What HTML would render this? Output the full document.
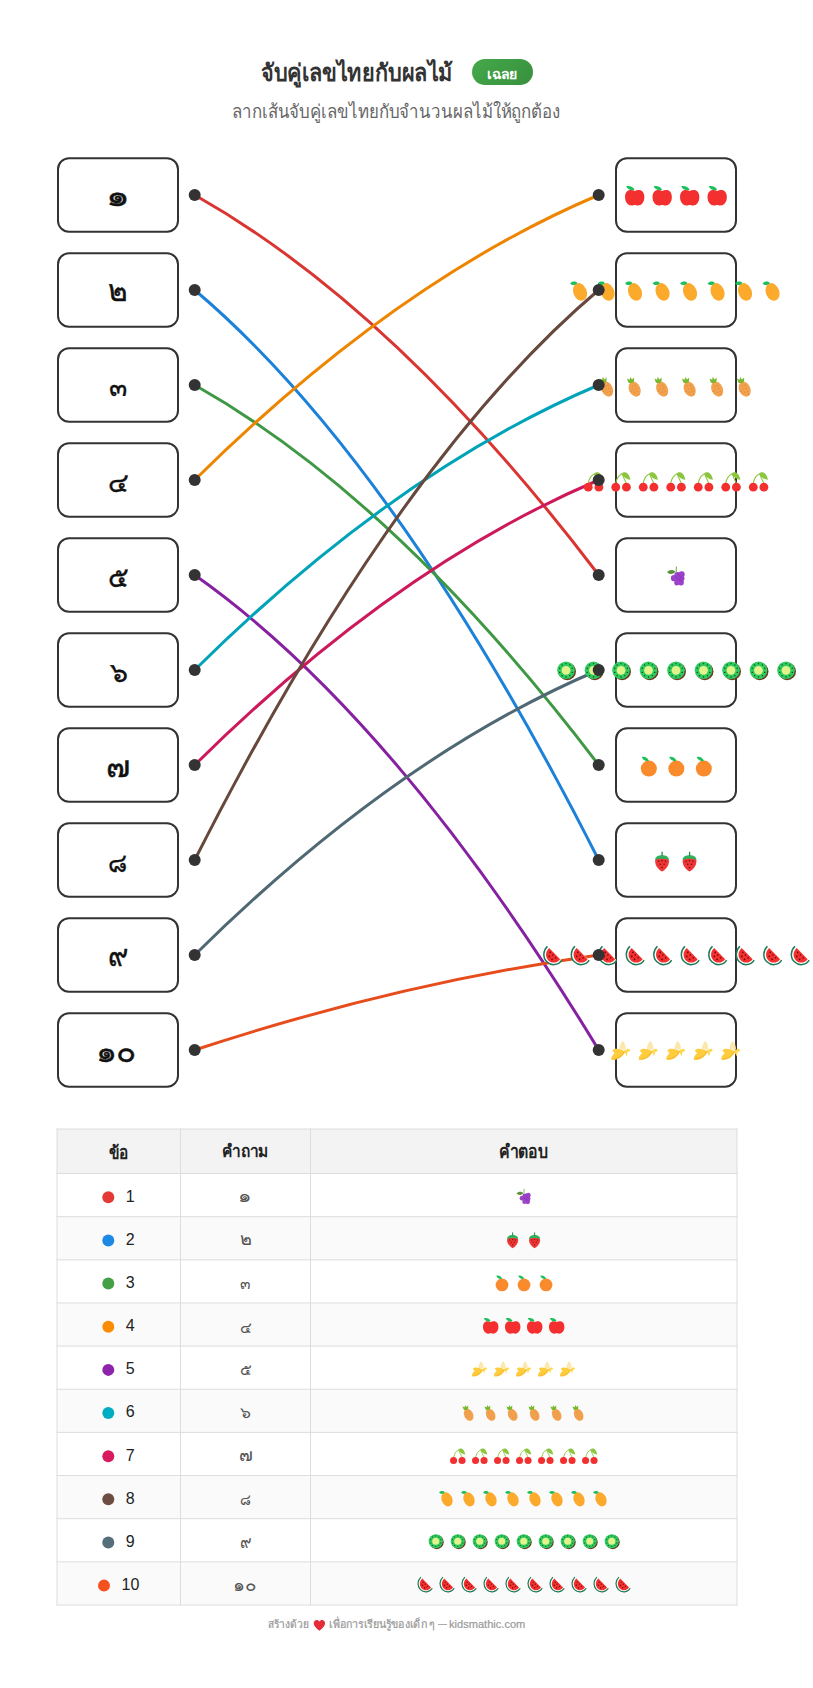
<!DOCTYPE html><html><head><meta charset="utf-8"><style>
*{margin:0;padding:0;box-sizing:border-box}
html,body{width:813px;height:1688px;background:#fff;overflow:hidden;font-family:"Liberation Sans", sans-serif}
.a{position:absolute;left:0;top:0}
.box{position:absolute;width:122px;height:75.5px;border:2px solid #333;border-radius:12px}
.t{position:absolute;white-space:nowrap;transform-origin:0 0;line-height:normal}
</style></head><body>
<div class="a" style="left:57px;top:1129.0px;width:680px;height:44.5px;background:#F3F3F3;position:absolute"></div>
<div style="position:absolute;left:57px;top:1216.65px;width:680px;height:43.15px;background:#FAFAFA"></div>
<div style="position:absolute;left:57px;top:1302.95px;width:680px;height:43.15px;background:#FAFAFA"></div>
<div style="position:absolute;left:57px;top:1389.25px;width:680px;height:43.15px;background:#FAFAFA"></div>
<div style="position:absolute;left:57px;top:1475.55px;width:680px;height:43.15px;background:#FAFAFA"></div>
<div style="position:absolute;left:57px;top:1561.85px;width:680px;height:43.15px;background:#FAFAFA"></div>
<div style="position:absolute;left:472px;top:58.6px;width:61.2px;height:26.6px;border-radius:14px;background:linear-gradient(135deg,#45A84A,#37903D)"></div>
<svg class="a" style="position:absolute" width="813" height="1688" viewBox="0 0 813 1688"><path d="M194.7 195.0Q396.7 309.0 598.7 575.0" stroke="#D93632" stroke-width="3" fill="none"/><path d="M194.7 290.0Q396.7 461.0 598.7 860.0" stroke="#1C81D9" stroke-width="3" fill="none"/><path d="M194.7 385.0Q396.7 499.0 598.7 765.0" stroke="#3F9843" stroke-width="3" fill="none"/><path d="M194.7 480.0Q396.7 280.5 598.7 195.0" stroke="#EE8500" stroke-width="3" fill="none"/><path d="M194.7 575.0Q396.7 717.5 598.7 1050.0" stroke="#8622A1" stroke-width="3" fill="none"/><path d="M194.7 670.0Q396.7 470.5 598.7 385.0" stroke="#00A3B7" stroke-width="3" fill="none"/><path d="M194.7 765.0Q396.7 565.5 598.7 480.0" stroke="#CD195B" stroke-width="3" fill="none"/><path d="M194.7 860.0Q396.7 461.0 598.7 290.0" stroke="#67483D" stroke-width="3" fill="none"/><path d="M194.7 955.0Q396.7 755.5 598.7 670.0" stroke="#4F6873" stroke-width="3" fill="none"/><path d="M194.7 1050.0Q396.7 983.5 598.7 955.0" stroke="#E74C1C" stroke-width="3" fill="none"/><rect x="56.5" y="1128.50" width="681" height="1" fill="#DDDDDD"/><rect x="56.5" y="1173.00" width="681" height="1" fill="#DDDDDD"/><rect x="56.5" y="1216.15" width="681" height="1" fill="#DDDDDD"/><rect x="56.5" y="1259.30" width="681" height="1" fill="#DDDDDD"/><rect x="56.5" y="1302.45" width="681" height="1" fill="#DDDDDD"/><rect x="56.5" y="1345.60" width="681" height="1" fill="#DDDDDD"/><rect x="56.5" y="1388.75" width="681" height="1" fill="#DDDDDD"/><rect x="56.5" y="1431.90" width="681" height="1" fill="#DDDDDD"/><rect x="56.5" y="1475.05" width="681" height="1" fill="#DDDDDD"/><rect x="56.5" y="1518.20" width="681" height="1" fill="#DDDDDD"/><rect x="56.5" y="1561.35" width="681" height="1" fill="#DDDDDD"/><rect x="56.5" y="1604.50" width="681" height="1" fill="#DDDDDD"/><rect x="56.50" y="1128.5" width="1" height="477.00" fill="#DDDDDD"/><rect x="180.00" y="1128.5" width="1" height="477.00" fill="#DDDDDD"/><rect x="310.00" y="1128.5" width="1" height="477.00" fill="#DDDDDD"/><rect x="736.50" y="1128.5" width="1" height="477.00" fill="#DDDDDD"/><rect x="58" y="158.25" width="120" height="73.50" rx="11" ry="11" fill="none" stroke="#333" stroke-width="2"/><rect x="616" y="158.25" width="120" height="73.50" rx="11" ry="11" fill="none" stroke="#333" stroke-width="2"/><rect x="58" y="253.25" width="120" height="73.50" rx="11" ry="11" fill="none" stroke="#333" stroke-width="2"/><rect x="616" y="253.25" width="120" height="73.50" rx="11" ry="11" fill="none" stroke="#333" stroke-width="2"/><rect x="58" y="348.25" width="120" height="73.50" rx="11" ry="11" fill="none" stroke="#333" stroke-width="2"/><rect x="616" y="348.25" width="120" height="73.50" rx="11" ry="11" fill="none" stroke="#333" stroke-width="2"/><rect x="58" y="443.25" width="120" height="73.50" rx="11" ry="11" fill="none" stroke="#333" stroke-width="2"/><rect x="616" y="443.25" width="120" height="73.50" rx="11" ry="11" fill="none" stroke="#333" stroke-width="2"/><rect x="58" y="538.25" width="120" height="73.50" rx="11" ry="11" fill="none" stroke="#333" stroke-width="2"/><rect x="616" y="538.25" width="120" height="73.50" rx="11" ry="11" fill="none" stroke="#333" stroke-width="2"/><rect x="58" y="633.25" width="120" height="73.50" rx="11" ry="11" fill="none" stroke="#333" stroke-width="2"/><rect x="616" y="633.25" width="120" height="73.50" rx="11" ry="11" fill="none" stroke="#333" stroke-width="2"/><rect x="58" y="728.25" width="120" height="73.50" rx="11" ry="11" fill="none" stroke="#333" stroke-width="2"/><rect x="616" y="728.25" width="120" height="73.50" rx="11" ry="11" fill="none" stroke="#333" stroke-width="2"/><rect x="58" y="823.25" width="120" height="73.50" rx="11" ry="11" fill="none" stroke="#333" stroke-width="2"/><rect x="616" y="823.25" width="120" height="73.50" rx="11" ry="11" fill="none" stroke="#333" stroke-width="2"/><rect x="58" y="918.25" width="120" height="73.50" rx="11" ry="11" fill="none" stroke="#333" stroke-width="2"/><rect x="616" y="918.25" width="120" height="73.50" rx="11" ry="11" fill="none" stroke="#333" stroke-width="2"/><rect x="58" y="1013.25" width="120" height="73.50" rx="11" ry="11" fill="none" stroke="#333" stroke-width="2"/><rect x="616" y="1013.25" width="120" height="73.50" rx="11" ry="11" fill="none" stroke="#333" stroke-width="2"/><g transform="translate(624.75,185.00) scale(1.0000)"><path d="M10 6C7 4.2 0.3 4.2 0.3 12C0.3 17.6 3.6 20.6 6.8 20.5C8.4 20.4 9 20 10 20C11 20 11.6 20.4 13.2 20.5C16.4 20.6 19.6 17.6 19.6 12C19.6 4.2 13 4.2 10 6Z" fill="#F32F2F"/><path d="M1.4 1.2C4.6 0.3 8.6 1.4 9.9 5.1C6.2 5.7 2.7 4.7 1.4 1.2Z" fill="#1DBF5C"/></g><g transform="translate(652.25,185.00) scale(1.0000)"><path d="M10 6C7 4.2 0.3 4.2 0.3 12C0.3 17.6 3.6 20.6 6.8 20.5C8.4 20.4 9 20 10 20C11 20 11.6 20.4 13.2 20.5C16.4 20.6 19.6 17.6 19.6 12C19.6 4.2 13 4.2 10 6Z" fill="#F32F2F"/><path d="M1.4 1.2C4.6 0.3 8.6 1.4 9.9 5.1C6.2 5.7 2.7 4.7 1.4 1.2Z" fill="#1DBF5C"/></g><g transform="translate(679.75,185.00) scale(1.0000)"><path d="M10 6C7 4.2 0.3 4.2 0.3 12C0.3 17.6 3.6 20.6 6.8 20.5C8.4 20.4 9 20 10 20C11 20 11.6 20.4 13.2 20.5C16.4 20.6 19.6 17.6 19.6 12C19.6 4.2 13 4.2 10 6Z" fill="#F32F2F"/><path d="M1.4 1.2C4.6 0.3 8.6 1.4 9.9 5.1C6.2 5.7 2.7 4.7 1.4 1.2Z" fill="#1DBF5C"/></g><g transform="translate(707.25,185.00) scale(1.0000)"><path d="M10 6C7 4.2 0.3 4.2 0.3 12C0.3 17.6 3.6 20.6 6.8 20.5C8.4 20.4 9 20 10 20C11 20 11.6 20.4 13.2 20.5C16.4 20.6 19.6 17.6 19.6 12C19.6 4.2 13 4.2 10 6Z" fill="#F32F2F"/><path d="M1.4 1.2C4.6 0.3 8.6 1.4 9.9 5.1C6.2 5.7 2.7 4.7 1.4 1.2Z" fill="#1DBF5C"/></g><g transform="translate(569.75,280.00) scale(1.0000)"><ellipse cx="10.3" cy="11.9" rx="6.7" ry="9.1" transform="rotate(-22 10.3 11.9)" fill="#FBAA2C"/><path d="M0.4 3.4C2.4 1.2 5.8 1 7.6 3C5.6 5.6 2.4 5.8 0.4 3.4Z" fill="#1DBF5C"/></g><g transform="translate(597.25,280.00) scale(1.0000)"><ellipse cx="10.3" cy="11.9" rx="6.7" ry="9.1" transform="rotate(-22 10.3 11.9)" fill="#FBAA2C"/><path d="M0.4 3.4C2.4 1.2 5.8 1 7.6 3C5.6 5.6 2.4 5.8 0.4 3.4Z" fill="#1DBF5C"/></g><g transform="translate(624.75,280.00) scale(1.0000)"><ellipse cx="10.3" cy="11.9" rx="6.7" ry="9.1" transform="rotate(-22 10.3 11.9)" fill="#FBAA2C"/><path d="M0.4 3.4C2.4 1.2 5.8 1 7.6 3C5.6 5.6 2.4 5.8 0.4 3.4Z" fill="#1DBF5C"/></g><g transform="translate(652.25,280.00) scale(1.0000)"><ellipse cx="10.3" cy="11.9" rx="6.7" ry="9.1" transform="rotate(-22 10.3 11.9)" fill="#FBAA2C"/><path d="M0.4 3.4C2.4 1.2 5.8 1 7.6 3C5.6 5.6 2.4 5.8 0.4 3.4Z" fill="#1DBF5C"/></g><g transform="translate(679.75,280.00) scale(1.0000)"><ellipse cx="10.3" cy="11.9" rx="6.7" ry="9.1" transform="rotate(-22 10.3 11.9)" fill="#FBAA2C"/><path d="M0.4 3.4C2.4 1.2 5.8 1 7.6 3C5.6 5.6 2.4 5.8 0.4 3.4Z" fill="#1DBF5C"/></g><g transform="translate(707.25,280.00) scale(1.0000)"><ellipse cx="10.3" cy="11.9" rx="6.7" ry="9.1" transform="rotate(-22 10.3 11.9)" fill="#FBAA2C"/><path d="M0.4 3.4C2.4 1.2 5.8 1 7.6 3C5.6 5.6 2.4 5.8 0.4 3.4Z" fill="#1DBF5C"/></g><g transform="translate(734.75,280.00) scale(1.0000)"><ellipse cx="10.3" cy="11.9" rx="6.7" ry="9.1" transform="rotate(-22 10.3 11.9)" fill="#FBAA2C"/><path d="M0.4 3.4C2.4 1.2 5.8 1 7.6 3C5.6 5.6 2.4 5.8 0.4 3.4Z" fill="#1DBF5C"/></g><g transform="translate(762.25,280.00) scale(1.0000)"><ellipse cx="10.3" cy="11.9" rx="6.7" ry="9.1" transform="rotate(-22 10.3 11.9)" fill="#FBAA2C"/><path d="M0.4 3.4C2.4 1.2 5.8 1 7.6 3C5.6 5.6 2.4 5.8 0.4 3.4Z" fill="#1DBF5C"/></g><g transform="translate(597.25,375.00) scale(1.0000)"><ellipse cx="9.9" cy="14.1" rx="5.6" ry="7.9" transform="rotate(-25 9.9 14.1)" fill="#F2A24E"/><g fill="#D5853C"><circle cx="7.6" cy="11" r=".6"/><circle cx="10.6" cy="10.4" r=".6"/><circle cx="8.4" cy="14" r=".6"/><circle cx="11.6" cy="13.4" r=".6"/><circle cx="9.6" cy="17.2" r=".6"/><circle cx="12.8" cy="16.6" r=".6"/><circle cx="14" cy="19.4" r=".6"/><circle cx="6.2" cy="16.4" r=".6"/></g><path d="M3.6 7.4L2.2 3.6L5 4.8L5.4 1.8L7.2 4.4L9.4 2.6L9.2 6.4C7.8 8.2 5.2 8.6 3.6 7.4Z" fill="#77B82E"/></g><g transform="translate(624.75,375.00) scale(1.0000)"><ellipse cx="9.9" cy="14.1" rx="5.6" ry="7.9" transform="rotate(-25 9.9 14.1)" fill="#F2A24E"/><g fill="#D5853C"><circle cx="7.6" cy="11" r=".6"/><circle cx="10.6" cy="10.4" r=".6"/><circle cx="8.4" cy="14" r=".6"/><circle cx="11.6" cy="13.4" r=".6"/><circle cx="9.6" cy="17.2" r=".6"/><circle cx="12.8" cy="16.6" r=".6"/><circle cx="14" cy="19.4" r=".6"/><circle cx="6.2" cy="16.4" r=".6"/></g><path d="M3.6 7.4L2.2 3.6L5 4.8L5.4 1.8L7.2 4.4L9.4 2.6L9.2 6.4C7.8 8.2 5.2 8.6 3.6 7.4Z" fill="#77B82E"/></g><g transform="translate(652.25,375.00) scale(1.0000)"><ellipse cx="9.9" cy="14.1" rx="5.6" ry="7.9" transform="rotate(-25 9.9 14.1)" fill="#F2A24E"/><g fill="#D5853C"><circle cx="7.6" cy="11" r=".6"/><circle cx="10.6" cy="10.4" r=".6"/><circle cx="8.4" cy="14" r=".6"/><circle cx="11.6" cy="13.4" r=".6"/><circle cx="9.6" cy="17.2" r=".6"/><circle cx="12.8" cy="16.6" r=".6"/><circle cx="14" cy="19.4" r=".6"/><circle cx="6.2" cy="16.4" r=".6"/></g><path d="M3.6 7.4L2.2 3.6L5 4.8L5.4 1.8L7.2 4.4L9.4 2.6L9.2 6.4C7.8 8.2 5.2 8.6 3.6 7.4Z" fill="#77B82E"/></g><g transform="translate(679.75,375.00) scale(1.0000)"><ellipse cx="9.9" cy="14.1" rx="5.6" ry="7.9" transform="rotate(-25 9.9 14.1)" fill="#F2A24E"/><g fill="#D5853C"><circle cx="7.6" cy="11" r=".6"/><circle cx="10.6" cy="10.4" r=".6"/><circle cx="8.4" cy="14" r=".6"/><circle cx="11.6" cy="13.4" r=".6"/><circle cx="9.6" cy="17.2" r=".6"/><circle cx="12.8" cy="16.6" r=".6"/><circle cx="14" cy="19.4" r=".6"/><circle cx="6.2" cy="16.4" r=".6"/></g><path d="M3.6 7.4L2.2 3.6L5 4.8L5.4 1.8L7.2 4.4L9.4 2.6L9.2 6.4C7.8 8.2 5.2 8.6 3.6 7.4Z" fill="#77B82E"/></g><g transform="translate(707.25,375.00) scale(1.0000)"><ellipse cx="9.9" cy="14.1" rx="5.6" ry="7.9" transform="rotate(-25 9.9 14.1)" fill="#F2A24E"/><g fill="#D5853C"><circle cx="7.6" cy="11" r=".6"/><circle cx="10.6" cy="10.4" r=".6"/><circle cx="8.4" cy="14" r=".6"/><circle cx="11.6" cy="13.4" r=".6"/><circle cx="9.6" cy="17.2" r=".6"/><circle cx="12.8" cy="16.6" r=".6"/><circle cx="14" cy="19.4" r=".6"/><circle cx="6.2" cy="16.4" r=".6"/></g><path d="M3.6 7.4L2.2 3.6L5 4.8L5.4 1.8L7.2 4.4L9.4 2.6L9.2 6.4C7.8 8.2 5.2 8.6 3.6 7.4Z" fill="#77B82E"/></g><g transform="translate(734.75,375.00) scale(1.0000)"><ellipse cx="9.9" cy="14.1" rx="5.6" ry="7.9" transform="rotate(-25 9.9 14.1)" fill="#F2A24E"/><g fill="#D5853C"><circle cx="7.6" cy="11" r=".6"/><circle cx="10.6" cy="10.4" r=".6"/><circle cx="8.4" cy="14" r=".6"/><circle cx="11.6" cy="13.4" r=".6"/><circle cx="9.6" cy="17.2" r=".6"/><circle cx="12.8" cy="16.6" r=".6"/><circle cx="14" cy="19.4" r=".6"/><circle cx="6.2" cy="16.4" r=".6"/></g><path d="M3.6 7.4L2.2 3.6L5 4.8L5.4 1.8L7.2 4.4L9.4 2.6L9.2 6.4C7.8 8.2 5.2 8.6 3.6 7.4Z" fill="#77B82E"/></g><g transform="translate(583.50,470.00) scale(1.0000)"><path d="M4.8 13Q6.2 6 11.2 3.8M15.2 13Q12.6 8 11.2 3.8" stroke="#8CC63F" stroke-width="1.1" fill="none"/><path d="M10.8 3.6C13 1.2 17.8 1.6 19.4 9.8C15.6 9.4 12.2 7.6 10.8 3.6Z" fill="#8CC63F"/><circle cx="4.75" cy="17.2" r="4.4" fill="#F32F2F"/><circle cx="15.4" cy="17.2" r="4.4" fill="#F32F2F"/></g><g transform="translate(611.00,470.00) scale(1.0000)"><path d="M4.8 13Q6.2 6 11.2 3.8M15.2 13Q12.6 8 11.2 3.8" stroke="#8CC63F" stroke-width="1.1" fill="none"/><path d="M10.8 3.6C13 1.2 17.8 1.6 19.4 9.8C15.6 9.4 12.2 7.6 10.8 3.6Z" fill="#8CC63F"/><circle cx="4.75" cy="17.2" r="4.4" fill="#F32F2F"/><circle cx="15.4" cy="17.2" r="4.4" fill="#F32F2F"/></g><g transform="translate(638.50,470.00) scale(1.0000)"><path d="M4.8 13Q6.2 6 11.2 3.8M15.2 13Q12.6 8 11.2 3.8" stroke="#8CC63F" stroke-width="1.1" fill="none"/><path d="M10.8 3.6C13 1.2 17.8 1.6 19.4 9.8C15.6 9.4 12.2 7.6 10.8 3.6Z" fill="#8CC63F"/><circle cx="4.75" cy="17.2" r="4.4" fill="#F32F2F"/><circle cx="15.4" cy="17.2" r="4.4" fill="#F32F2F"/></g><g transform="translate(666.00,470.00) scale(1.0000)"><path d="M4.8 13Q6.2 6 11.2 3.8M15.2 13Q12.6 8 11.2 3.8" stroke="#8CC63F" stroke-width="1.1" fill="none"/><path d="M10.8 3.6C13 1.2 17.8 1.6 19.4 9.8C15.6 9.4 12.2 7.6 10.8 3.6Z" fill="#8CC63F"/><circle cx="4.75" cy="17.2" r="4.4" fill="#F32F2F"/><circle cx="15.4" cy="17.2" r="4.4" fill="#F32F2F"/></g><g transform="translate(693.50,470.00) scale(1.0000)"><path d="M4.8 13Q6.2 6 11.2 3.8M15.2 13Q12.6 8 11.2 3.8" stroke="#8CC63F" stroke-width="1.1" fill="none"/><path d="M10.8 3.6C13 1.2 17.8 1.6 19.4 9.8C15.6 9.4 12.2 7.6 10.8 3.6Z" fill="#8CC63F"/><circle cx="4.75" cy="17.2" r="4.4" fill="#F32F2F"/><circle cx="15.4" cy="17.2" r="4.4" fill="#F32F2F"/></g><g transform="translate(721.00,470.00) scale(1.0000)"><path d="M4.8 13Q6.2 6 11.2 3.8M15.2 13Q12.6 8 11.2 3.8" stroke="#8CC63F" stroke-width="1.1" fill="none"/><path d="M10.8 3.6C13 1.2 17.8 1.6 19.4 9.8C15.6 9.4 12.2 7.6 10.8 3.6Z" fill="#8CC63F"/><circle cx="4.75" cy="17.2" r="4.4" fill="#F32F2F"/><circle cx="15.4" cy="17.2" r="4.4" fill="#F32F2F"/></g><g transform="translate(748.50,470.00) scale(1.0000)"><path d="M4.8 13Q6.2 6 11.2 3.8M15.2 13Q12.6 8 11.2 3.8" stroke="#8CC63F" stroke-width="1.1" fill="none"/><path d="M10.8 3.6C13 1.2 17.8 1.6 19.4 9.8C15.6 9.4 12.2 7.6 10.8 3.6Z" fill="#8CC63F"/><circle cx="4.75" cy="17.2" r="4.4" fill="#F32F2F"/><circle cx="15.4" cy="17.2" r="4.4" fill="#F32F2F"/></g><g transform="translate(666.00,565.00) scale(1.0000)"><path d="M1.1 7.2C3.2 4.4 7.4 4.2 9.4 6.8C7.2 9.6 3.4 9.8 1.1 7.2Z" fill="#5C913B"/><path d="M10.2 7L10.4 1.4" stroke="#77B255" stroke-width="1.1" fill="none"/><g fill="#9B42C9"><circle cx="15.6" cy="9.4" r="3.1"/><circle cx="11.4" cy="10.2" r="3.1"/><circle cx="15.4" cy="13.6" r="3.1"/><circle cx="8" cy="13.2" r="3.1"/><circle cx="11.8" cy="14.6" r="3.1"/><circle cx="15" cy="17.6" r="2.9"/><circle cx="10.8" cy="17.8" r="2.6"/></g><path d="M9.4 11.4C11 13.6 13 15 15.6 15.8M12 8.2C12.6 10.6 14 12.4 16.2 13" stroke="#7B2FA6" stroke-width=".7" fill="none"/></g><g transform="translate(556.00,660.00) scale(1.0000)"><circle cx="11.2" cy="11.4" r="8.8" fill="#6B3A1E"/><circle cx="10" cy="10.3" r="8.8" fill="#2FCB5F"/><circle cx="10" cy="10.3" r="4.4" fill="#E4F28C"/><g fill="#0B3A14"><circle cx="10" cy="3.6" r=".65"/><circle cx="13.9" cy="4.9" r=".65"/><circle cx="16.3" cy="8.2" r=".65"/><circle cx="16.3" cy="12.4" r=".65"/><circle cx="13.9" cy="15.7" r=".65"/><circle cx="10" cy="17" r=".65"/><circle cx="6.1" cy="15.7" r=".65"/><circle cx="3.7" cy="12.4" r=".65"/><circle cx="3.7" cy="8.2" r=".65"/><circle cx="6.1" cy="4.9" r=".65"/></g></g><g transform="translate(583.50,660.00) scale(1.0000)"><circle cx="11.2" cy="11.4" r="8.8" fill="#6B3A1E"/><circle cx="10" cy="10.3" r="8.8" fill="#2FCB5F"/><circle cx="10" cy="10.3" r="4.4" fill="#E4F28C"/><g fill="#0B3A14"><circle cx="10" cy="3.6" r=".65"/><circle cx="13.9" cy="4.9" r=".65"/><circle cx="16.3" cy="8.2" r=".65"/><circle cx="16.3" cy="12.4" r=".65"/><circle cx="13.9" cy="15.7" r=".65"/><circle cx="10" cy="17" r=".65"/><circle cx="6.1" cy="15.7" r=".65"/><circle cx="3.7" cy="12.4" r=".65"/><circle cx="3.7" cy="8.2" r=".65"/><circle cx="6.1" cy="4.9" r=".65"/></g></g><g transform="translate(611.00,660.00) scale(1.0000)"><circle cx="11.2" cy="11.4" r="8.8" fill="#6B3A1E"/><circle cx="10" cy="10.3" r="8.8" fill="#2FCB5F"/><circle cx="10" cy="10.3" r="4.4" fill="#E4F28C"/><g fill="#0B3A14"><circle cx="10" cy="3.6" r=".65"/><circle cx="13.9" cy="4.9" r=".65"/><circle cx="16.3" cy="8.2" r=".65"/><circle cx="16.3" cy="12.4" r=".65"/><circle cx="13.9" cy="15.7" r=".65"/><circle cx="10" cy="17" r=".65"/><circle cx="6.1" cy="15.7" r=".65"/><circle cx="3.7" cy="12.4" r=".65"/><circle cx="3.7" cy="8.2" r=".65"/><circle cx="6.1" cy="4.9" r=".65"/></g></g><g transform="translate(638.50,660.00) scale(1.0000)"><circle cx="11.2" cy="11.4" r="8.8" fill="#6B3A1E"/><circle cx="10" cy="10.3" r="8.8" fill="#2FCB5F"/><circle cx="10" cy="10.3" r="4.4" fill="#E4F28C"/><g fill="#0B3A14"><circle cx="10" cy="3.6" r=".65"/><circle cx="13.9" cy="4.9" r=".65"/><circle cx="16.3" cy="8.2" r=".65"/><circle cx="16.3" cy="12.4" r=".65"/><circle cx="13.9" cy="15.7" r=".65"/><circle cx="10" cy="17" r=".65"/><circle cx="6.1" cy="15.7" r=".65"/><circle cx="3.7" cy="12.4" r=".65"/><circle cx="3.7" cy="8.2" r=".65"/><circle cx="6.1" cy="4.9" r=".65"/></g></g><g transform="translate(666.00,660.00) scale(1.0000)"><circle cx="11.2" cy="11.4" r="8.8" fill="#6B3A1E"/><circle cx="10" cy="10.3" r="8.8" fill="#2FCB5F"/><circle cx="10" cy="10.3" r="4.4" fill="#E4F28C"/><g fill="#0B3A14"><circle cx="10" cy="3.6" r=".65"/><circle cx="13.9" cy="4.9" r=".65"/><circle cx="16.3" cy="8.2" r=".65"/><circle cx="16.3" cy="12.4" r=".65"/><circle cx="13.9" cy="15.7" r=".65"/><circle cx="10" cy="17" r=".65"/><circle cx="6.1" cy="15.7" r=".65"/><circle cx="3.7" cy="12.4" r=".65"/><circle cx="3.7" cy="8.2" r=".65"/><circle cx="6.1" cy="4.9" r=".65"/></g></g><g transform="translate(693.50,660.00) scale(1.0000)"><circle cx="11.2" cy="11.4" r="8.8" fill="#6B3A1E"/><circle cx="10" cy="10.3" r="8.8" fill="#2FCB5F"/><circle cx="10" cy="10.3" r="4.4" fill="#E4F28C"/><g fill="#0B3A14"><circle cx="10" cy="3.6" r=".65"/><circle cx="13.9" cy="4.9" r=".65"/><circle cx="16.3" cy="8.2" r=".65"/><circle cx="16.3" cy="12.4" r=".65"/><circle cx="13.9" cy="15.7" r=".65"/><circle cx="10" cy="17" r=".65"/><circle cx="6.1" cy="15.7" r=".65"/><circle cx="3.7" cy="12.4" r=".65"/><circle cx="3.7" cy="8.2" r=".65"/><circle cx="6.1" cy="4.9" r=".65"/></g></g><g transform="translate(721.00,660.00) scale(1.0000)"><circle cx="11.2" cy="11.4" r="8.8" fill="#6B3A1E"/><circle cx="10" cy="10.3" r="8.8" fill="#2FCB5F"/><circle cx="10" cy="10.3" r="4.4" fill="#E4F28C"/><g fill="#0B3A14"><circle cx="10" cy="3.6" r=".65"/><circle cx="13.9" cy="4.9" r=".65"/><circle cx="16.3" cy="8.2" r=".65"/><circle cx="16.3" cy="12.4" r=".65"/><circle cx="13.9" cy="15.7" r=".65"/><circle cx="10" cy="17" r=".65"/><circle cx="6.1" cy="15.7" r=".65"/><circle cx="3.7" cy="12.4" r=".65"/><circle cx="3.7" cy="8.2" r=".65"/><circle cx="6.1" cy="4.9" r=".65"/></g></g><g transform="translate(748.50,660.00) scale(1.0000)"><circle cx="11.2" cy="11.4" r="8.8" fill="#6B3A1E"/><circle cx="10" cy="10.3" r="8.8" fill="#2FCB5F"/><circle cx="10" cy="10.3" r="4.4" fill="#E4F28C"/><g fill="#0B3A14"><circle cx="10" cy="3.6" r=".65"/><circle cx="13.9" cy="4.9" r=".65"/><circle cx="16.3" cy="8.2" r=".65"/><circle cx="16.3" cy="12.4" r=".65"/><circle cx="13.9" cy="15.7" r=".65"/><circle cx="10" cy="17" r=".65"/><circle cx="6.1" cy="15.7" r=".65"/><circle cx="3.7" cy="12.4" r=".65"/><circle cx="3.7" cy="8.2" r=".65"/><circle cx="6.1" cy="4.9" r=".65"/></g></g><g transform="translate(776.00,660.00) scale(1.0000)"><circle cx="11.2" cy="11.4" r="8.8" fill="#6B3A1E"/><circle cx="10" cy="10.3" r="8.8" fill="#2FCB5F"/><circle cx="10" cy="10.3" r="4.4" fill="#E4F28C"/><g fill="#0B3A14"><circle cx="10" cy="3.6" r=".65"/><circle cx="13.9" cy="4.9" r=".65"/><circle cx="16.3" cy="8.2" r=".65"/><circle cx="16.3" cy="12.4" r=".65"/><circle cx="13.9" cy="15.7" r=".65"/><circle cx="10" cy="17" r=".65"/><circle cx="6.1" cy="15.7" r=".65"/><circle cx="3.7" cy="12.4" r=".65"/><circle cx="3.7" cy="8.2" r=".65"/><circle cx="6.1" cy="4.9" r=".65"/></g></g><g transform="translate(638.50,755.00) scale(1.0000)"><circle cx="10.35" cy="13.55" r="8" fill="#F98B2D"/><path d="M3.2 2C6.2 1.4 9.2 2.6 10.4 6C7.2 6.6 4.4 5.2 3.2 2Z" fill="#1DBF5C"/></g><g transform="translate(666.00,755.00) scale(1.0000)"><circle cx="10.35" cy="13.55" r="8" fill="#F98B2D"/><path d="M3.2 2C6.2 1.4 9.2 2.6 10.4 6C7.2 6.6 4.4 5.2 3.2 2Z" fill="#1DBF5C"/></g><g transform="translate(693.50,755.00) scale(1.0000)"><circle cx="10.35" cy="13.55" r="8" fill="#F98B2D"/><path d="M3.2 2C6.2 1.4 9.2 2.6 10.4 6C7.2 6.6 4.4 5.2 3.2 2Z" fill="#1DBF5C"/></g><g transform="translate(652.25,850.00) scale(1.0000)"><path d="M2.9 11.2C2.9 15.6 6 19.4 9.8 21.6C13.6 19.4 16.7 15.6 16.7 11.2C16.7 8.6 14 7.6 9.8 7.6C5.6 7.6 2.9 8.6 2.9 11.2Z" fill="#EE3636"/><path d="M2.9 10C2.9 6.6 6.2 5.2 9.8 5.2C13.4 5.2 16.7 6.6 16.7 10C13.2 8.4 6.4 8.4 2.9 10Z" fill="#30B15C"/><rect x="9.2" y="1.8" width="1.3" height="4.2" fill="#2B8A4A"/><g fill="#6A0A0A"><circle cx="6.4" cy="11.2" r=".75"/><circle cx="9.8" cy="10.8" r=".75"/><circle cx="13.2" cy="11.2" r=".75"/><circle cx="8" cy="14.2" r=".75"/><circle cx="11.8" cy="14.2" r=".75"/><circle cx="9.8" cy="17.4" r=".75"/></g></g><g transform="translate(679.75,850.00) scale(1.0000)"><path d="M2.9 11.2C2.9 15.6 6 19.4 9.8 21.6C13.6 19.4 16.7 15.6 16.7 11.2C16.7 8.6 14 7.6 9.8 7.6C5.6 7.6 2.9 8.6 2.9 11.2Z" fill="#EE3636"/><path d="M2.9 10C2.9 6.6 6.2 5.2 9.8 5.2C13.4 5.2 16.7 6.6 16.7 10C13.2 8.4 6.4 8.4 2.9 10Z" fill="#30B15C"/><rect x="9.2" y="1.8" width="1.3" height="4.2" fill="#2B8A4A"/><g fill="#6A0A0A"><circle cx="6.4" cy="11.2" r=".75"/><circle cx="9.8" cy="10.8" r=".75"/><circle cx="13.2" cy="11.2" r=".75"/><circle cx="8" cy="14.2" r=".75"/><circle cx="11.8" cy="14.2" r=".75"/><circle cx="9.8" cy="17.4" r=".75"/></g></g><g transform="translate(542.25,945.00) scale(1.0000)"><path d="M5.2 1.2C0.8 5.4 0.2 12.6 4.6 16.8C8.8 20.8 15.8 20.8 19.4 15.2Z" fill="#fff"/><path d="M5.2 1.2C0.8 5.4 0.2 12.6 4.6 16.8C8.8 20.8 15.8 20.8 19.4 15.2" stroke="#1C7A58" stroke-width="1.5" fill="none"/><path d="M6.9 3.1C3 6.8 2.8 12 6.2 15.4C9.6 18.6 14.8 18.4 17.9 14.2Z" fill="#F32F2F"/><g fill="#5A0A0A"><circle cx="8" cy="7.4" r=".8"/><circle cx="10.6" cy="10" r=".8"/><circle cx="7" cy="11.4" r=".8"/><circle cx="13.4" cy="12.8" r=".8"/><circle cx="9.8" cy="14.4" r=".8"/></g></g><g transform="translate(569.75,945.00) scale(1.0000)"><path d="M5.2 1.2C0.8 5.4 0.2 12.6 4.6 16.8C8.8 20.8 15.8 20.8 19.4 15.2Z" fill="#fff"/><path d="M5.2 1.2C0.8 5.4 0.2 12.6 4.6 16.8C8.8 20.8 15.8 20.8 19.4 15.2" stroke="#1C7A58" stroke-width="1.5" fill="none"/><path d="M6.9 3.1C3 6.8 2.8 12 6.2 15.4C9.6 18.6 14.8 18.4 17.9 14.2Z" fill="#F32F2F"/><g fill="#5A0A0A"><circle cx="8" cy="7.4" r=".8"/><circle cx="10.6" cy="10" r=".8"/><circle cx="7" cy="11.4" r=".8"/><circle cx="13.4" cy="12.8" r=".8"/><circle cx="9.8" cy="14.4" r=".8"/></g></g><g transform="translate(597.25,945.00) scale(1.0000)"><path d="M5.2 1.2C0.8 5.4 0.2 12.6 4.6 16.8C8.8 20.8 15.8 20.8 19.4 15.2Z" fill="#fff"/><path d="M5.2 1.2C0.8 5.4 0.2 12.6 4.6 16.8C8.8 20.8 15.8 20.8 19.4 15.2" stroke="#1C7A58" stroke-width="1.5" fill="none"/><path d="M6.9 3.1C3 6.8 2.8 12 6.2 15.4C9.6 18.6 14.8 18.4 17.9 14.2Z" fill="#F32F2F"/><g fill="#5A0A0A"><circle cx="8" cy="7.4" r=".8"/><circle cx="10.6" cy="10" r=".8"/><circle cx="7" cy="11.4" r=".8"/><circle cx="13.4" cy="12.8" r=".8"/><circle cx="9.8" cy="14.4" r=".8"/></g></g><g transform="translate(624.75,945.00) scale(1.0000)"><path d="M5.2 1.2C0.8 5.4 0.2 12.6 4.6 16.8C8.8 20.8 15.8 20.8 19.4 15.2Z" fill="#fff"/><path d="M5.2 1.2C0.8 5.4 0.2 12.6 4.6 16.8C8.8 20.8 15.8 20.8 19.4 15.2" stroke="#1C7A58" stroke-width="1.5" fill="none"/><path d="M6.9 3.1C3 6.8 2.8 12 6.2 15.4C9.6 18.6 14.8 18.4 17.9 14.2Z" fill="#F32F2F"/><g fill="#5A0A0A"><circle cx="8" cy="7.4" r=".8"/><circle cx="10.6" cy="10" r=".8"/><circle cx="7" cy="11.4" r=".8"/><circle cx="13.4" cy="12.8" r=".8"/><circle cx="9.8" cy="14.4" r=".8"/></g></g><g transform="translate(652.25,945.00) scale(1.0000)"><path d="M5.2 1.2C0.8 5.4 0.2 12.6 4.6 16.8C8.8 20.8 15.8 20.8 19.4 15.2Z" fill="#fff"/><path d="M5.2 1.2C0.8 5.4 0.2 12.6 4.6 16.8C8.8 20.8 15.8 20.8 19.4 15.2" stroke="#1C7A58" stroke-width="1.5" fill="none"/><path d="M6.9 3.1C3 6.8 2.8 12 6.2 15.4C9.6 18.6 14.8 18.4 17.9 14.2Z" fill="#F32F2F"/><g fill="#5A0A0A"><circle cx="8" cy="7.4" r=".8"/><circle cx="10.6" cy="10" r=".8"/><circle cx="7" cy="11.4" r=".8"/><circle cx="13.4" cy="12.8" r=".8"/><circle cx="9.8" cy="14.4" r=".8"/></g></g><g transform="translate(679.75,945.00) scale(1.0000)"><path d="M5.2 1.2C0.8 5.4 0.2 12.6 4.6 16.8C8.8 20.8 15.8 20.8 19.4 15.2Z" fill="#fff"/><path d="M5.2 1.2C0.8 5.4 0.2 12.6 4.6 16.8C8.8 20.8 15.8 20.8 19.4 15.2" stroke="#1C7A58" stroke-width="1.5" fill="none"/><path d="M6.9 3.1C3 6.8 2.8 12 6.2 15.4C9.6 18.6 14.8 18.4 17.9 14.2Z" fill="#F32F2F"/><g fill="#5A0A0A"><circle cx="8" cy="7.4" r=".8"/><circle cx="10.6" cy="10" r=".8"/><circle cx="7" cy="11.4" r=".8"/><circle cx="13.4" cy="12.8" r=".8"/><circle cx="9.8" cy="14.4" r=".8"/></g></g><g transform="translate(707.25,945.00) scale(1.0000)"><path d="M5.2 1.2C0.8 5.4 0.2 12.6 4.6 16.8C8.8 20.8 15.8 20.8 19.4 15.2Z" fill="#fff"/><path d="M5.2 1.2C0.8 5.4 0.2 12.6 4.6 16.8C8.8 20.8 15.8 20.8 19.4 15.2" stroke="#1C7A58" stroke-width="1.5" fill="none"/><path d="M6.9 3.1C3 6.8 2.8 12 6.2 15.4C9.6 18.6 14.8 18.4 17.9 14.2Z" fill="#F32F2F"/><g fill="#5A0A0A"><circle cx="8" cy="7.4" r=".8"/><circle cx="10.6" cy="10" r=".8"/><circle cx="7" cy="11.4" r=".8"/><circle cx="13.4" cy="12.8" r=".8"/><circle cx="9.8" cy="14.4" r=".8"/></g></g><g transform="translate(734.75,945.00) scale(1.0000)"><path d="M5.2 1.2C0.8 5.4 0.2 12.6 4.6 16.8C8.8 20.8 15.8 20.8 19.4 15.2Z" fill="#fff"/><path d="M5.2 1.2C0.8 5.4 0.2 12.6 4.6 16.8C8.8 20.8 15.8 20.8 19.4 15.2" stroke="#1C7A58" stroke-width="1.5" fill="none"/><path d="M6.9 3.1C3 6.8 2.8 12 6.2 15.4C9.6 18.6 14.8 18.4 17.9 14.2Z" fill="#F32F2F"/><g fill="#5A0A0A"><circle cx="8" cy="7.4" r=".8"/><circle cx="10.6" cy="10" r=".8"/><circle cx="7" cy="11.4" r=".8"/><circle cx="13.4" cy="12.8" r=".8"/><circle cx="9.8" cy="14.4" r=".8"/></g></g><g transform="translate(762.25,945.00) scale(1.0000)"><path d="M5.2 1.2C0.8 5.4 0.2 12.6 4.6 16.8C8.8 20.8 15.8 20.8 19.4 15.2Z" fill="#fff"/><path d="M5.2 1.2C0.8 5.4 0.2 12.6 4.6 16.8C8.8 20.8 15.8 20.8 19.4 15.2" stroke="#1C7A58" stroke-width="1.5" fill="none"/><path d="M6.9 3.1C3 6.8 2.8 12 6.2 15.4C9.6 18.6 14.8 18.4 17.9 14.2Z" fill="#F32F2F"/><g fill="#5A0A0A"><circle cx="8" cy="7.4" r=".8"/><circle cx="10.6" cy="10" r=".8"/><circle cx="7" cy="11.4" r=".8"/><circle cx="13.4" cy="12.8" r=".8"/><circle cx="9.8" cy="14.4" r=".8"/></g></g><g transform="translate(789.75,945.00) scale(1.0000)"><path d="M5.2 1.2C0.8 5.4 0.2 12.6 4.6 16.8C8.8 20.8 15.8 20.8 19.4 15.2Z" fill="#fff"/><path d="M5.2 1.2C0.8 5.4 0.2 12.6 4.6 16.8C8.8 20.8 15.8 20.8 19.4 15.2" stroke="#1C7A58" stroke-width="1.5" fill="none"/><path d="M6.9 3.1C3 6.8 2.8 12 6.2 15.4C9.6 18.6 14.8 18.4 17.9 14.2Z" fill="#F32F2F"/><g fill="#5A0A0A"><circle cx="8" cy="7.4" r=".8"/><circle cx="10.6" cy="10" r=".8"/><circle cx="7" cy="11.4" r=".8"/><circle cx="13.4" cy="12.8" r=".8"/><circle cx="9.8" cy="14.4" r=".8"/></g></g><g transform="translate(611.00,1040.00) scale(1.0000)"><path d="M8.3 9.4C8.6 5.4 10.6 1.4 12 1.1C13.6 2.8 15 6.2 15 9.6Z" fill="#FCE8AC"/><path d="M1.2 10.4L3.8 8.8C7.4 8.6 11 9.4 14 11.6C12.2 16.8 7.2 20.6 0.6 20C-0.4 18 0.8 15.4 3.6 13.2Z" fill="#FFCC3D"/><path d="M13.2 10.6L17.6 8.6L19.5 10.8L16.6 12L15.6 16.4C14.8 14.4 14 12.8 13.2 12Z" fill="#FFD84D"/><path d="M2.4 19C7.6 18.6 11.8 15.4 13.6 11.2" stroke="#E9AB2B" stroke-width=".7" fill="none"/></g><g transform="translate(638.50,1040.00) scale(1.0000)"><path d="M8.3 9.4C8.6 5.4 10.6 1.4 12 1.1C13.6 2.8 15 6.2 15 9.6Z" fill="#FCE8AC"/><path d="M1.2 10.4L3.8 8.8C7.4 8.6 11 9.4 14 11.6C12.2 16.8 7.2 20.6 0.6 20C-0.4 18 0.8 15.4 3.6 13.2Z" fill="#FFCC3D"/><path d="M13.2 10.6L17.6 8.6L19.5 10.8L16.6 12L15.6 16.4C14.8 14.4 14 12.8 13.2 12Z" fill="#FFD84D"/><path d="M2.4 19C7.6 18.6 11.8 15.4 13.6 11.2" stroke="#E9AB2B" stroke-width=".7" fill="none"/></g><g transform="translate(666.00,1040.00) scale(1.0000)"><path d="M8.3 9.4C8.6 5.4 10.6 1.4 12 1.1C13.6 2.8 15 6.2 15 9.6Z" fill="#FCE8AC"/><path d="M1.2 10.4L3.8 8.8C7.4 8.6 11 9.4 14 11.6C12.2 16.8 7.2 20.6 0.6 20C-0.4 18 0.8 15.4 3.6 13.2Z" fill="#FFCC3D"/><path d="M13.2 10.6L17.6 8.6L19.5 10.8L16.6 12L15.6 16.4C14.8 14.4 14 12.8 13.2 12Z" fill="#FFD84D"/><path d="M2.4 19C7.6 18.6 11.8 15.4 13.6 11.2" stroke="#E9AB2B" stroke-width=".7" fill="none"/></g><g transform="translate(693.50,1040.00) scale(1.0000)"><path d="M8.3 9.4C8.6 5.4 10.6 1.4 12 1.1C13.6 2.8 15 6.2 15 9.6Z" fill="#FCE8AC"/><path d="M1.2 10.4L3.8 8.8C7.4 8.6 11 9.4 14 11.6C12.2 16.8 7.2 20.6 0.6 20C-0.4 18 0.8 15.4 3.6 13.2Z" fill="#FFCC3D"/><path d="M13.2 10.6L17.6 8.6L19.5 10.8L16.6 12L15.6 16.4C14.8 14.4 14 12.8 13.2 12Z" fill="#FFD84D"/><path d="M2.4 19C7.6 18.6 11.8 15.4 13.6 11.2" stroke="#E9AB2B" stroke-width=".7" fill="none"/></g><g transform="translate(721.00,1040.00) scale(1.0000)"><path d="M8.3 9.4C8.6 5.4 10.6 1.4 12 1.1C13.6 2.8 15 6.2 15 9.6Z" fill="#FCE8AC"/><path d="M1.2 10.4L3.8 8.8C7.4 8.6 11 9.4 14 11.6C12.2 16.8 7.2 20.6 0.6 20C-0.4 18 0.8 15.4 3.6 13.2Z" fill="#FFCC3D"/><path d="M13.2 10.6L17.6 8.6L19.5 10.8L16.6 12L15.6 16.4C14.8 14.4 14 12.8 13.2 12Z" fill="#FFD84D"/><path d="M2.4 19C7.6 18.6 11.8 15.4 13.6 11.2" stroke="#E9AB2B" stroke-width=".7" fill="none"/></g><g transform="translate(515.75,1187.78) scale(0.8000)"><path d="M1.1 7.2C3.2 4.4 7.4 4.2 9.4 6.8C7.2 9.6 3.4 9.8 1.1 7.2Z" fill="#5C913B"/><path d="M10.2 7L10.4 1.4" stroke="#77B255" stroke-width="1.1" fill="none"/><g fill="#9B42C9"><circle cx="15.6" cy="9.4" r="3.1"/><circle cx="11.4" cy="10.2" r="3.1"/><circle cx="15.4" cy="13.6" r="3.1"/><circle cx="8" cy="13.2" r="3.1"/><circle cx="11.8" cy="14.6" r="3.1"/><circle cx="15" cy="17.6" r="2.9"/><circle cx="10.8" cy="17.8" r="2.6"/></g><path d="M9.4 11.4C11 13.6 13 15 15.6 15.8M12 8.2C12.6 10.6 14 12.4 16.2 13" stroke="#7B2FA6" stroke-width=".7" fill="none"/></g><circle cx="108.3" cy="1197.28" r="6" fill="#E53935"/><g transform="translate(504.75,1230.93) scale(0.8000)"><path d="M2.9 11.2C2.9 15.6 6 19.4 9.8 21.6C13.6 19.4 16.7 15.6 16.7 11.2C16.7 8.6 14 7.6 9.8 7.6C5.6 7.6 2.9 8.6 2.9 11.2Z" fill="#EE3636"/><path d="M2.9 10C2.9 6.6 6.2 5.2 9.8 5.2C13.4 5.2 16.7 6.6 16.7 10C13.2 8.4 6.4 8.4 2.9 10Z" fill="#30B15C"/><rect x="9.2" y="1.8" width="1.3" height="4.2" fill="#2B8A4A"/><g fill="#6A0A0A"><circle cx="6.4" cy="11.2" r=".75"/><circle cx="9.8" cy="10.8" r=".75"/><circle cx="13.2" cy="11.2" r=".75"/><circle cx="8" cy="14.2" r=".75"/><circle cx="11.8" cy="14.2" r=".75"/><circle cx="9.8" cy="17.4" r=".75"/></g></g><g transform="translate(526.75,1230.93) scale(0.8000)"><path d="M2.9 11.2C2.9 15.6 6 19.4 9.8 21.6C13.6 19.4 16.7 15.6 16.7 11.2C16.7 8.6 14 7.6 9.8 7.6C5.6 7.6 2.9 8.6 2.9 11.2Z" fill="#EE3636"/><path d="M2.9 10C2.9 6.6 6.2 5.2 9.8 5.2C13.4 5.2 16.7 6.6 16.7 10C13.2 8.4 6.4 8.4 2.9 10Z" fill="#30B15C"/><rect x="9.2" y="1.8" width="1.3" height="4.2" fill="#2B8A4A"/><g fill="#6A0A0A"><circle cx="6.4" cy="11.2" r=".75"/><circle cx="9.8" cy="10.8" r=".75"/><circle cx="13.2" cy="11.2" r=".75"/><circle cx="8" cy="14.2" r=".75"/><circle cx="11.8" cy="14.2" r=".75"/><circle cx="9.8" cy="17.4" r=".75"/></g></g><circle cx="108.3" cy="1240.43" r="6" fill="#1E88E5"/><g transform="translate(493.75,1274.08) scale(0.8000)"><circle cx="10.35" cy="13.55" r="8" fill="#F98B2D"/><path d="M3.2 2C6.2 1.4 9.2 2.6 10.4 6C7.2 6.6 4.4 5.2 3.2 2Z" fill="#1DBF5C"/></g><g transform="translate(515.75,1274.08) scale(0.8000)"><circle cx="10.35" cy="13.55" r="8" fill="#F98B2D"/><path d="M3.2 2C6.2 1.4 9.2 2.6 10.4 6C7.2 6.6 4.4 5.2 3.2 2Z" fill="#1DBF5C"/></g><g transform="translate(537.75,1274.08) scale(0.8000)"><circle cx="10.35" cy="13.55" r="8" fill="#F98B2D"/><path d="M3.2 2C6.2 1.4 9.2 2.6 10.4 6C7.2 6.6 4.4 5.2 3.2 2Z" fill="#1DBF5C"/></g><circle cx="108.3" cy="1283.58" r="6" fill="#43A047"/><g transform="translate(482.75,1317.23) scale(0.8000)"><path d="M10 6C7 4.2 0.3 4.2 0.3 12C0.3 17.6 3.6 20.6 6.8 20.5C8.4 20.4 9 20 10 20C11 20 11.6 20.4 13.2 20.5C16.4 20.6 19.6 17.6 19.6 12C19.6 4.2 13 4.2 10 6Z" fill="#F32F2F"/><path d="M1.4 1.2C4.6 0.3 8.6 1.4 9.9 5.1C6.2 5.7 2.7 4.7 1.4 1.2Z" fill="#1DBF5C"/></g><g transform="translate(504.75,1317.23) scale(0.8000)"><path d="M10 6C7 4.2 0.3 4.2 0.3 12C0.3 17.6 3.6 20.6 6.8 20.5C8.4 20.4 9 20 10 20C11 20 11.6 20.4 13.2 20.5C16.4 20.6 19.6 17.6 19.6 12C19.6 4.2 13 4.2 10 6Z" fill="#F32F2F"/><path d="M1.4 1.2C4.6 0.3 8.6 1.4 9.9 5.1C6.2 5.7 2.7 4.7 1.4 1.2Z" fill="#1DBF5C"/></g><g transform="translate(526.75,1317.23) scale(0.8000)"><path d="M10 6C7 4.2 0.3 4.2 0.3 12C0.3 17.6 3.6 20.6 6.8 20.5C8.4 20.4 9 20 10 20C11 20 11.6 20.4 13.2 20.5C16.4 20.6 19.6 17.6 19.6 12C19.6 4.2 13 4.2 10 6Z" fill="#F32F2F"/><path d="M1.4 1.2C4.6 0.3 8.6 1.4 9.9 5.1C6.2 5.7 2.7 4.7 1.4 1.2Z" fill="#1DBF5C"/></g><g transform="translate(548.75,1317.23) scale(0.8000)"><path d="M10 6C7 4.2 0.3 4.2 0.3 12C0.3 17.6 3.6 20.6 6.8 20.5C8.4 20.4 9 20 10 20C11 20 11.6 20.4 13.2 20.5C16.4 20.6 19.6 17.6 19.6 12C19.6 4.2 13 4.2 10 6Z" fill="#F32F2F"/><path d="M1.4 1.2C4.6 0.3 8.6 1.4 9.9 5.1C6.2 5.7 2.7 4.7 1.4 1.2Z" fill="#1DBF5C"/></g><circle cx="108.3" cy="1326.73" r="6" fill="#FB8C00"/><g transform="translate(471.75,1360.38) scale(0.8000)"><path d="M8.3 9.4C8.6 5.4 10.6 1.4 12 1.1C13.6 2.8 15 6.2 15 9.6Z" fill="#FCE8AC"/><path d="M1.2 10.4L3.8 8.8C7.4 8.6 11 9.4 14 11.6C12.2 16.8 7.2 20.6 0.6 20C-0.4 18 0.8 15.4 3.6 13.2Z" fill="#FFCC3D"/><path d="M13.2 10.6L17.6 8.6L19.5 10.8L16.6 12L15.6 16.4C14.8 14.4 14 12.8 13.2 12Z" fill="#FFD84D"/><path d="M2.4 19C7.6 18.6 11.8 15.4 13.6 11.2" stroke="#E9AB2B" stroke-width=".7" fill="none"/></g><g transform="translate(493.75,1360.38) scale(0.8000)"><path d="M8.3 9.4C8.6 5.4 10.6 1.4 12 1.1C13.6 2.8 15 6.2 15 9.6Z" fill="#FCE8AC"/><path d="M1.2 10.4L3.8 8.8C7.4 8.6 11 9.4 14 11.6C12.2 16.8 7.2 20.6 0.6 20C-0.4 18 0.8 15.4 3.6 13.2Z" fill="#FFCC3D"/><path d="M13.2 10.6L17.6 8.6L19.5 10.8L16.6 12L15.6 16.4C14.8 14.4 14 12.8 13.2 12Z" fill="#FFD84D"/><path d="M2.4 19C7.6 18.6 11.8 15.4 13.6 11.2" stroke="#E9AB2B" stroke-width=".7" fill="none"/></g><g transform="translate(515.75,1360.38) scale(0.8000)"><path d="M8.3 9.4C8.6 5.4 10.6 1.4 12 1.1C13.6 2.8 15 6.2 15 9.6Z" fill="#FCE8AC"/><path d="M1.2 10.4L3.8 8.8C7.4 8.6 11 9.4 14 11.6C12.2 16.8 7.2 20.6 0.6 20C-0.4 18 0.8 15.4 3.6 13.2Z" fill="#FFCC3D"/><path d="M13.2 10.6L17.6 8.6L19.5 10.8L16.6 12L15.6 16.4C14.8 14.4 14 12.8 13.2 12Z" fill="#FFD84D"/><path d="M2.4 19C7.6 18.6 11.8 15.4 13.6 11.2" stroke="#E9AB2B" stroke-width=".7" fill="none"/></g><g transform="translate(537.75,1360.38) scale(0.8000)"><path d="M8.3 9.4C8.6 5.4 10.6 1.4 12 1.1C13.6 2.8 15 6.2 15 9.6Z" fill="#FCE8AC"/><path d="M1.2 10.4L3.8 8.8C7.4 8.6 11 9.4 14 11.6C12.2 16.8 7.2 20.6 0.6 20C-0.4 18 0.8 15.4 3.6 13.2Z" fill="#FFCC3D"/><path d="M13.2 10.6L17.6 8.6L19.5 10.8L16.6 12L15.6 16.4C14.8 14.4 14 12.8 13.2 12Z" fill="#FFD84D"/><path d="M2.4 19C7.6 18.6 11.8 15.4 13.6 11.2" stroke="#E9AB2B" stroke-width=".7" fill="none"/></g><g transform="translate(559.75,1360.38) scale(0.8000)"><path d="M8.3 9.4C8.6 5.4 10.6 1.4 12 1.1C13.6 2.8 15 6.2 15 9.6Z" fill="#FCE8AC"/><path d="M1.2 10.4L3.8 8.8C7.4 8.6 11 9.4 14 11.6C12.2 16.8 7.2 20.6 0.6 20C-0.4 18 0.8 15.4 3.6 13.2Z" fill="#FFCC3D"/><path d="M13.2 10.6L17.6 8.6L19.5 10.8L16.6 12L15.6 16.4C14.8 14.4 14 12.8 13.2 12Z" fill="#FFD84D"/><path d="M2.4 19C7.6 18.6 11.8 15.4 13.6 11.2" stroke="#E9AB2B" stroke-width=".7" fill="none"/></g><circle cx="108.3" cy="1369.88" r="6" fill="#8E24AA"/><g transform="translate(460.75,1403.53) scale(0.8000)"><ellipse cx="9.9" cy="14.1" rx="5.6" ry="7.9" transform="rotate(-25 9.9 14.1)" fill="#F2A24E"/><g fill="#D5853C"><circle cx="7.6" cy="11" r=".6"/><circle cx="10.6" cy="10.4" r=".6"/><circle cx="8.4" cy="14" r=".6"/><circle cx="11.6" cy="13.4" r=".6"/><circle cx="9.6" cy="17.2" r=".6"/><circle cx="12.8" cy="16.6" r=".6"/><circle cx="14" cy="19.4" r=".6"/><circle cx="6.2" cy="16.4" r=".6"/></g><path d="M3.6 7.4L2.2 3.6L5 4.8L5.4 1.8L7.2 4.4L9.4 2.6L9.2 6.4C7.8 8.2 5.2 8.6 3.6 7.4Z" fill="#77B82E"/></g><g transform="translate(482.75,1403.53) scale(0.8000)"><ellipse cx="9.9" cy="14.1" rx="5.6" ry="7.9" transform="rotate(-25 9.9 14.1)" fill="#F2A24E"/><g fill="#D5853C"><circle cx="7.6" cy="11" r=".6"/><circle cx="10.6" cy="10.4" r=".6"/><circle cx="8.4" cy="14" r=".6"/><circle cx="11.6" cy="13.4" r=".6"/><circle cx="9.6" cy="17.2" r=".6"/><circle cx="12.8" cy="16.6" r=".6"/><circle cx="14" cy="19.4" r=".6"/><circle cx="6.2" cy="16.4" r=".6"/></g><path d="M3.6 7.4L2.2 3.6L5 4.8L5.4 1.8L7.2 4.4L9.4 2.6L9.2 6.4C7.8 8.2 5.2 8.6 3.6 7.4Z" fill="#77B82E"/></g><g transform="translate(504.75,1403.53) scale(0.8000)"><ellipse cx="9.9" cy="14.1" rx="5.6" ry="7.9" transform="rotate(-25 9.9 14.1)" fill="#F2A24E"/><g fill="#D5853C"><circle cx="7.6" cy="11" r=".6"/><circle cx="10.6" cy="10.4" r=".6"/><circle cx="8.4" cy="14" r=".6"/><circle cx="11.6" cy="13.4" r=".6"/><circle cx="9.6" cy="17.2" r=".6"/><circle cx="12.8" cy="16.6" r=".6"/><circle cx="14" cy="19.4" r=".6"/><circle cx="6.2" cy="16.4" r=".6"/></g><path d="M3.6 7.4L2.2 3.6L5 4.8L5.4 1.8L7.2 4.4L9.4 2.6L9.2 6.4C7.8 8.2 5.2 8.6 3.6 7.4Z" fill="#77B82E"/></g><g transform="translate(526.75,1403.53) scale(0.8000)"><ellipse cx="9.9" cy="14.1" rx="5.6" ry="7.9" transform="rotate(-25 9.9 14.1)" fill="#F2A24E"/><g fill="#D5853C"><circle cx="7.6" cy="11" r=".6"/><circle cx="10.6" cy="10.4" r=".6"/><circle cx="8.4" cy="14" r=".6"/><circle cx="11.6" cy="13.4" r=".6"/><circle cx="9.6" cy="17.2" r=".6"/><circle cx="12.8" cy="16.6" r=".6"/><circle cx="14" cy="19.4" r=".6"/><circle cx="6.2" cy="16.4" r=".6"/></g><path d="M3.6 7.4L2.2 3.6L5 4.8L5.4 1.8L7.2 4.4L9.4 2.6L9.2 6.4C7.8 8.2 5.2 8.6 3.6 7.4Z" fill="#77B82E"/></g><g transform="translate(548.75,1403.53) scale(0.8000)"><ellipse cx="9.9" cy="14.1" rx="5.6" ry="7.9" transform="rotate(-25 9.9 14.1)" fill="#F2A24E"/><g fill="#D5853C"><circle cx="7.6" cy="11" r=".6"/><circle cx="10.6" cy="10.4" r=".6"/><circle cx="8.4" cy="14" r=".6"/><circle cx="11.6" cy="13.4" r=".6"/><circle cx="9.6" cy="17.2" r=".6"/><circle cx="12.8" cy="16.6" r=".6"/><circle cx="14" cy="19.4" r=".6"/><circle cx="6.2" cy="16.4" r=".6"/></g><path d="M3.6 7.4L2.2 3.6L5 4.8L5.4 1.8L7.2 4.4L9.4 2.6L9.2 6.4C7.8 8.2 5.2 8.6 3.6 7.4Z" fill="#77B82E"/></g><g transform="translate(570.75,1403.53) scale(0.8000)"><ellipse cx="9.9" cy="14.1" rx="5.6" ry="7.9" transform="rotate(-25 9.9 14.1)" fill="#F2A24E"/><g fill="#D5853C"><circle cx="7.6" cy="11" r=".6"/><circle cx="10.6" cy="10.4" r=".6"/><circle cx="8.4" cy="14" r=".6"/><circle cx="11.6" cy="13.4" r=".6"/><circle cx="9.6" cy="17.2" r=".6"/><circle cx="12.8" cy="16.6" r=".6"/><circle cx="14" cy="19.4" r=".6"/><circle cx="6.2" cy="16.4" r=".6"/></g><path d="M3.6 7.4L2.2 3.6L5 4.8L5.4 1.8L7.2 4.4L9.4 2.6L9.2 6.4C7.8 8.2 5.2 8.6 3.6 7.4Z" fill="#77B82E"/></g><circle cx="108.3" cy="1413.03" r="6" fill="#00ACC1"/><g transform="translate(449.75,1446.68) scale(0.8000)"><path d="M4.8 13Q6.2 6 11.2 3.8M15.2 13Q12.6 8 11.2 3.8" stroke="#8CC63F" stroke-width="1.1" fill="none"/><path d="M10.8 3.6C13 1.2 17.8 1.6 19.4 9.8C15.6 9.4 12.2 7.6 10.8 3.6Z" fill="#8CC63F"/><circle cx="4.75" cy="17.2" r="4.4" fill="#F32F2F"/><circle cx="15.4" cy="17.2" r="4.4" fill="#F32F2F"/></g><g transform="translate(471.75,1446.68) scale(0.8000)"><path d="M4.8 13Q6.2 6 11.2 3.8M15.2 13Q12.6 8 11.2 3.8" stroke="#8CC63F" stroke-width="1.1" fill="none"/><path d="M10.8 3.6C13 1.2 17.8 1.6 19.4 9.8C15.6 9.4 12.2 7.6 10.8 3.6Z" fill="#8CC63F"/><circle cx="4.75" cy="17.2" r="4.4" fill="#F32F2F"/><circle cx="15.4" cy="17.2" r="4.4" fill="#F32F2F"/></g><g transform="translate(493.75,1446.68) scale(0.8000)"><path d="M4.8 13Q6.2 6 11.2 3.8M15.2 13Q12.6 8 11.2 3.8" stroke="#8CC63F" stroke-width="1.1" fill="none"/><path d="M10.8 3.6C13 1.2 17.8 1.6 19.4 9.8C15.6 9.4 12.2 7.6 10.8 3.6Z" fill="#8CC63F"/><circle cx="4.75" cy="17.2" r="4.4" fill="#F32F2F"/><circle cx="15.4" cy="17.2" r="4.4" fill="#F32F2F"/></g><g transform="translate(515.75,1446.68) scale(0.8000)"><path d="M4.8 13Q6.2 6 11.2 3.8M15.2 13Q12.6 8 11.2 3.8" stroke="#8CC63F" stroke-width="1.1" fill="none"/><path d="M10.8 3.6C13 1.2 17.8 1.6 19.4 9.8C15.6 9.4 12.2 7.6 10.8 3.6Z" fill="#8CC63F"/><circle cx="4.75" cy="17.2" r="4.4" fill="#F32F2F"/><circle cx="15.4" cy="17.2" r="4.4" fill="#F32F2F"/></g><g transform="translate(537.75,1446.68) scale(0.8000)"><path d="M4.8 13Q6.2 6 11.2 3.8M15.2 13Q12.6 8 11.2 3.8" stroke="#8CC63F" stroke-width="1.1" fill="none"/><path d="M10.8 3.6C13 1.2 17.8 1.6 19.4 9.8C15.6 9.4 12.2 7.6 10.8 3.6Z" fill="#8CC63F"/><circle cx="4.75" cy="17.2" r="4.4" fill="#F32F2F"/><circle cx="15.4" cy="17.2" r="4.4" fill="#F32F2F"/></g><g transform="translate(559.75,1446.68) scale(0.8000)"><path d="M4.8 13Q6.2 6 11.2 3.8M15.2 13Q12.6 8 11.2 3.8" stroke="#8CC63F" stroke-width="1.1" fill="none"/><path d="M10.8 3.6C13 1.2 17.8 1.6 19.4 9.8C15.6 9.4 12.2 7.6 10.8 3.6Z" fill="#8CC63F"/><circle cx="4.75" cy="17.2" r="4.4" fill="#F32F2F"/><circle cx="15.4" cy="17.2" r="4.4" fill="#F32F2F"/></g><g transform="translate(581.75,1446.68) scale(0.8000)"><path d="M4.8 13Q6.2 6 11.2 3.8M15.2 13Q12.6 8 11.2 3.8" stroke="#8CC63F" stroke-width="1.1" fill="none"/><path d="M10.8 3.6C13 1.2 17.8 1.6 19.4 9.8C15.6 9.4 12.2 7.6 10.8 3.6Z" fill="#8CC63F"/><circle cx="4.75" cy="17.2" r="4.4" fill="#F32F2F"/><circle cx="15.4" cy="17.2" r="4.4" fill="#F32F2F"/></g><circle cx="108.3" cy="1456.18" r="6" fill="#D81B60"/><g transform="translate(438.75,1489.83) scale(0.8000)"><ellipse cx="10.3" cy="11.9" rx="6.7" ry="9.1" transform="rotate(-22 10.3 11.9)" fill="#FBAA2C"/><path d="M0.4 3.4C2.4 1.2 5.8 1 7.6 3C5.6 5.6 2.4 5.8 0.4 3.4Z" fill="#1DBF5C"/></g><g transform="translate(460.75,1489.83) scale(0.8000)"><ellipse cx="10.3" cy="11.9" rx="6.7" ry="9.1" transform="rotate(-22 10.3 11.9)" fill="#FBAA2C"/><path d="M0.4 3.4C2.4 1.2 5.8 1 7.6 3C5.6 5.6 2.4 5.8 0.4 3.4Z" fill="#1DBF5C"/></g><g transform="translate(482.75,1489.83) scale(0.8000)"><ellipse cx="10.3" cy="11.9" rx="6.7" ry="9.1" transform="rotate(-22 10.3 11.9)" fill="#FBAA2C"/><path d="M0.4 3.4C2.4 1.2 5.8 1 7.6 3C5.6 5.6 2.4 5.8 0.4 3.4Z" fill="#1DBF5C"/></g><g transform="translate(504.75,1489.83) scale(0.8000)"><ellipse cx="10.3" cy="11.9" rx="6.7" ry="9.1" transform="rotate(-22 10.3 11.9)" fill="#FBAA2C"/><path d="M0.4 3.4C2.4 1.2 5.8 1 7.6 3C5.6 5.6 2.4 5.8 0.4 3.4Z" fill="#1DBF5C"/></g><g transform="translate(526.75,1489.83) scale(0.8000)"><ellipse cx="10.3" cy="11.9" rx="6.7" ry="9.1" transform="rotate(-22 10.3 11.9)" fill="#FBAA2C"/><path d="M0.4 3.4C2.4 1.2 5.8 1 7.6 3C5.6 5.6 2.4 5.8 0.4 3.4Z" fill="#1DBF5C"/></g><g transform="translate(548.75,1489.83) scale(0.8000)"><ellipse cx="10.3" cy="11.9" rx="6.7" ry="9.1" transform="rotate(-22 10.3 11.9)" fill="#FBAA2C"/><path d="M0.4 3.4C2.4 1.2 5.8 1 7.6 3C5.6 5.6 2.4 5.8 0.4 3.4Z" fill="#1DBF5C"/></g><g transform="translate(570.75,1489.83) scale(0.8000)"><ellipse cx="10.3" cy="11.9" rx="6.7" ry="9.1" transform="rotate(-22 10.3 11.9)" fill="#FBAA2C"/><path d="M0.4 3.4C2.4 1.2 5.8 1 7.6 3C5.6 5.6 2.4 5.8 0.4 3.4Z" fill="#1DBF5C"/></g><g transform="translate(592.75,1489.83) scale(0.8000)"><ellipse cx="10.3" cy="11.9" rx="6.7" ry="9.1" transform="rotate(-22 10.3 11.9)" fill="#FBAA2C"/><path d="M0.4 3.4C2.4 1.2 5.8 1 7.6 3C5.6 5.6 2.4 5.8 0.4 3.4Z" fill="#1DBF5C"/></g><circle cx="108.3" cy="1499.33" r="6" fill="#6D4C41"/><g transform="translate(427.75,1532.98) scale(0.8000)"><circle cx="11.2" cy="11.4" r="8.8" fill="#6B3A1E"/><circle cx="10" cy="10.3" r="8.8" fill="#2FCB5F"/><circle cx="10" cy="10.3" r="4.4" fill="#E4F28C"/><g fill="#0B3A14"><circle cx="10" cy="3.6" r=".65"/><circle cx="13.9" cy="4.9" r=".65"/><circle cx="16.3" cy="8.2" r=".65"/><circle cx="16.3" cy="12.4" r=".65"/><circle cx="13.9" cy="15.7" r=".65"/><circle cx="10" cy="17" r=".65"/><circle cx="6.1" cy="15.7" r=".65"/><circle cx="3.7" cy="12.4" r=".65"/><circle cx="3.7" cy="8.2" r=".65"/><circle cx="6.1" cy="4.9" r=".65"/></g></g><g transform="translate(449.75,1532.98) scale(0.8000)"><circle cx="11.2" cy="11.4" r="8.8" fill="#6B3A1E"/><circle cx="10" cy="10.3" r="8.8" fill="#2FCB5F"/><circle cx="10" cy="10.3" r="4.4" fill="#E4F28C"/><g fill="#0B3A14"><circle cx="10" cy="3.6" r=".65"/><circle cx="13.9" cy="4.9" r=".65"/><circle cx="16.3" cy="8.2" r=".65"/><circle cx="16.3" cy="12.4" r=".65"/><circle cx="13.9" cy="15.7" r=".65"/><circle cx="10" cy="17" r=".65"/><circle cx="6.1" cy="15.7" r=".65"/><circle cx="3.7" cy="12.4" r=".65"/><circle cx="3.7" cy="8.2" r=".65"/><circle cx="6.1" cy="4.9" r=".65"/></g></g><g transform="translate(471.75,1532.98) scale(0.8000)"><circle cx="11.2" cy="11.4" r="8.8" fill="#6B3A1E"/><circle cx="10" cy="10.3" r="8.8" fill="#2FCB5F"/><circle cx="10" cy="10.3" r="4.4" fill="#E4F28C"/><g fill="#0B3A14"><circle cx="10" cy="3.6" r=".65"/><circle cx="13.9" cy="4.9" r=".65"/><circle cx="16.3" cy="8.2" r=".65"/><circle cx="16.3" cy="12.4" r=".65"/><circle cx="13.9" cy="15.7" r=".65"/><circle cx="10" cy="17" r=".65"/><circle cx="6.1" cy="15.7" r=".65"/><circle cx="3.7" cy="12.4" r=".65"/><circle cx="3.7" cy="8.2" r=".65"/><circle cx="6.1" cy="4.9" r=".65"/></g></g><g transform="translate(493.75,1532.98) scale(0.8000)"><circle cx="11.2" cy="11.4" r="8.8" fill="#6B3A1E"/><circle cx="10" cy="10.3" r="8.8" fill="#2FCB5F"/><circle cx="10" cy="10.3" r="4.4" fill="#E4F28C"/><g fill="#0B3A14"><circle cx="10" cy="3.6" r=".65"/><circle cx="13.9" cy="4.9" r=".65"/><circle cx="16.3" cy="8.2" r=".65"/><circle cx="16.3" cy="12.4" r=".65"/><circle cx="13.9" cy="15.7" r=".65"/><circle cx="10" cy="17" r=".65"/><circle cx="6.1" cy="15.7" r=".65"/><circle cx="3.7" cy="12.4" r=".65"/><circle cx="3.7" cy="8.2" r=".65"/><circle cx="6.1" cy="4.9" r=".65"/></g></g><g transform="translate(515.75,1532.98) scale(0.8000)"><circle cx="11.2" cy="11.4" r="8.8" fill="#6B3A1E"/><circle cx="10" cy="10.3" r="8.8" fill="#2FCB5F"/><circle cx="10" cy="10.3" r="4.4" fill="#E4F28C"/><g fill="#0B3A14"><circle cx="10" cy="3.6" r=".65"/><circle cx="13.9" cy="4.9" r=".65"/><circle cx="16.3" cy="8.2" r=".65"/><circle cx="16.3" cy="12.4" r=".65"/><circle cx="13.9" cy="15.7" r=".65"/><circle cx="10" cy="17" r=".65"/><circle cx="6.1" cy="15.7" r=".65"/><circle cx="3.7" cy="12.4" r=".65"/><circle cx="3.7" cy="8.2" r=".65"/><circle cx="6.1" cy="4.9" r=".65"/></g></g><g transform="translate(537.75,1532.98) scale(0.8000)"><circle cx="11.2" cy="11.4" r="8.8" fill="#6B3A1E"/><circle cx="10" cy="10.3" r="8.8" fill="#2FCB5F"/><circle cx="10" cy="10.3" r="4.4" fill="#E4F28C"/><g fill="#0B3A14"><circle cx="10" cy="3.6" r=".65"/><circle cx="13.9" cy="4.9" r=".65"/><circle cx="16.3" cy="8.2" r=".65"/><circle cx="16.3" cy="12.4" r=".65"/><circle cx="13.9" cy="15.7" r=".65"/><circle cx="10" cy="17" r=".65"/><circle cx="6.1" cy="15.7" r=".65"/><circle cx="3.7" cy="12.4" r=".65"/><circle cx="3.7" cy="8.2" r=".65"/><circle cx="6.1" cy="4.9" r=".65"/></g></g><g transform="translate(559.75,1532.98) scale(0.8000)"><circle cx="11.2" cy="11.4" r="8.8" fill="#6B3A1E"/><circle cx="10" cy="10.3" r="8.8" fill="#2FCB5F"/><circle cx="10" cy="10.3" r="4.4" fill="#E4F28C"/><g fill="#0B3A14"><circle cx="10" cy="3.6" r=".65"/><circle cx="13.9" cy="4.9" r=".65"/><circle cx="16.3" cy="8.2" r=".65"/><circle cx="16.3" cy="12.4" r=".65"/><circle cx="13.9" cy="15.7" r=".65"/><circle cx="10" cy="17" r=".65"/><circle cx="6.1" cy="15.7" r=".65"/><circle cx="3.7" cy="12.4" r=".65"/><circle cx="3.7" cy="8.2" r=".65"/><circle cx="6.1" cy="4.9" r=".65"/></g></g><g transform="translate(581.75,1532.98) scale(0.8000)"><circle cx="11.2" cy="11.4" r="8.8" fill="#6B3A1E"/><circle cx="10" cy="10.3" r="8.8" fill="#2FCB5F"/><circle cx="10" cy="10.3" r="4.4" fill="#E4F28C"/><g fill="#0B3A14"><circle cx="10" cy="3.6" r=".65"/><circle cx="13.9" cy="4.9" r=".65"/><circle cx="16.3" cy="8.2" r=".65"/><circle cx="16.3" cy="12.4" r=".65"/><circle cx="13.9" cy="15.7" r=".65"/><circle cx="10" cy="17" r=".65"/><circle cx="6.1" cy="15.7" r=".65"/><circle cx="3.7" cy="12.4" r=".65"/><circle cx="3.7" cy="8.2" r=".65"/><circle cx="6.1" cy="4.9" r=".65"/></g></g><g transform="translate(603.75,1532.98) scale(0.8000)"><circle cx="11.2" cy="11.4" r="8.8" fill="#6B3A1E"/><circle cx="10" cy="10.3" r="8.8" fill="#2FCB5F"/><circle cx="10" cy="10.3" r="4.4" fill="#E4F28C"/><g fill="#0B3A14"><circle cx="10" cy="3.6" r=".65"/><circle cx="13.9" cy="4.9" r=".65"/><circle cx="16.3" cy="8.2" r=".65"/><circle cx="16.3" cy="12.4" r=".65"/><circle cx="13.9" cy="15.7" r=".65"/><circle cx="10" cy="17" r=".65"/><circle cx="6.1" cy="15.7" r=".65"/><circle cx="3.7" cy="12.4" r=".65"/><circle cx="3.7" cy="8.2" r=".65"/><circle cx="6.1" cy="4.9" r=".65"/></g></g><circle cx="108.3" cy="1542.48" r="6" fill="#546E7A"/><g transform="translate(416.75,1576.12) scale(0.8000)"><path d="M5.2 1.2C0.8 5.4 0.2 12.6 4.6 16.8C8.8 20.8 15.8 20.8 19.4 15.2Z" fill="#fff"/><path d="M5.2 1.2C0.8 5.4 0.2 12.6 4.6 16.8C8.8 20.8 15.8 20.8 19.4 15.2" stroke="#1C7A58" stroke-width="1.5" fill="none"/><path d="M6.9 3.1C3 6.8 2.8 12 6.2 15.4C9.6 18.6 14.8 18.4 17.9 14.2Z" fill="#F32F2F"/><g fill="#5A0A0A"><circle cx="8" cy="7.4" r=".8"/><circle cx="10.6" cy="10" r=".8"/><circle cx="7" cy="11.4" r=".8"/><circle cx="13.4" cy="12.8" r=".8"/><circle cx="9.8" cy="14.4" r=".8"/></g></g><g transform="translate(438.75,1576.12) scale(0.8000)"><path d="M5.2 1.2C0.8 5.4 0.2 12.6 4.6 16.8C8.8 20.8 15.8 20.8 19.4 15.2Z" fill="#fff"/><path d="M5.2 1.2C0.8 5.4 0.2 12.6 4.6 16.8C8.8 20.8 15.8 20.8 19.4 15.2" stroke="#1C7A58" stroke-width="1.5" fill="none"/><path d="M6.9 3.1C3 6.8 2.8 12 6.2 15.4C9.6 18.6 14.8 18.4 17.9 14.2Z" fill="#F32F2F"/><g fill="#5A0A0A"><circle cx="8" cy="7.4" r=".8"/><circle cx="10.6" cy="10" r=".8"/><circle cx="7" cy="11.4" r=".8"/><circle cx="13.4" cy="12.8" r=".8"/><circle cx="9.8" cy="14.4" r=".8"/></g></g><g transform="translate(460.75,1576.12) scale(0.8000)"><path d="M5.2 1.2C0.8 5.4 0.2 12.6 4.6 16.8C8.8 20.8 15.8 20.8 19.4 15.2Z" fill="#fff"/><path d="M5.2 1.2C0.8 5.4 0.2 12.6 4.6 16.8C8.8 20.8 15.8 20.8 19.4 15.2" stroke="#1C7A58" stroke-width="1.5" fill="none"/><path d="M6.9 3.1C3 6.8 2.8 12 6.2 15.4C9.6 18.6 14.8 18.4 17.9 14.2Z" fill="#F32F2F"/><g fill="#5A0A0A"><circle cx="8" cy="7.4" r=".8"/><circle cx="10.6" cy="10" r=".8"/><circle cx="7" cy="11.4" r=".8"/><circle cx="13.4" cy="12.8" r=".8"/><circle cx="9.8" cy="14.4" r=".8"/></g></g><g transform="translate(482.75,1576.12) scale(0.8000)"><path d="M5.2 1.2C0.8 5.4 0.2 12.6 4.6 16.8C8.8 20.8 15.8 20.8 19.4 15.2Z" fill="#fff"/><path d="M5.2 1.2C0.8 5.4 0.2 12.6 4.6 16.8C8.8 20.8 15.8 20.8 19.4 15.2" stroke="#1C7A58" stroke-width="1.5" fill="none"/><path d="M6.9 3.1C3 6.8 2.8 12 6.2 15.4C9.6 18.6 14.8 18.4 17.9 14.2Z" fill="#F32F2F"/><g fill="#5A0A0A"><circle cx="8" cy="7.4" r=".8"/><circle cx="10.6" cy="10" r=".8"/><circle cx="7" cy="11.4" r=".8"/><circle cx="13.4" cy="12.8" r=".8"/><circle cx="9.8" cy="14.4" r=".8"/></g></g><g transform="translate(504.75,1576.12) scale(0.8000)"><path d="M5.2 1.2C0.8 5.4 0.2 12.6 4.6 16.8C8.8 20.8 15.8 20.8 19.4 15.2Z" fill="#fff"/><path d="M5.2 1.2C0.8 5.4 0.2 12.6 4.6 16.8C8.8 20.8 15.8 20.8 19.4 15.2" stroke="#1C7A58" stroke-width="1.5" fill="none"/><path d="M6.9 3.1C3 6.8 2.8 12 6.2 15.4C9.6 18.6 14.8 18.4 17.9 14.2Z" fill="#F32F2F"/><g fill="#5A0A0A"><circle cx="8" cy="7.4" r=".8"/><circle cx="10.6" cy="10" r=".8"/><circle cx="7" cy="11.4" r=".8"/><circle cx="13.4" cy="12.8" r=".8"/><circle cx="9.8" cy="14.4" r=".8"/></g></g><g transform="translate(526.75,1576.12) scale(0.8000)"><path d="M5.2 1.2C0.8 5.4 0.2 12.6 4.6 16.8C8.8 20.8 15.8 20.8 19.4 15.2Z" fill="#fff"/><path d="M5.2 1.2C0.8 5.4 0.2 12.6 4.6 16.8C8.8 20.8 15.8 20.8 19.4 15.2" stroke="#1C7A58" stroke-width="1.5" fill="none"/><path d="M6.9 3.1C3 6.8 2.8 12 6.2 15.4C9.6 18.6 14.8 18.4 17.9 14.2Z" fill="#F32F2F"/><g fill="#5A0A0A"><circle cx="8" cy="7.4" r=".8"/><circle cx="10.6" cy="10" r=".8"/><circle cx="7" cy="11.4" r=".8"/><circle cx="13.4" cy="12.8" r=".8"/><circle cx="9.8" cy="14.4" r=".8"/></g></g><g transform="translate(548.75,1576.12) scale(0.8000)"><path d="M5.2 1.2C0.8 5.4 0.2 12.6 4.6 16.8C8.8 20.8 15.8 20.8 19.4 15.2Z" fill="#fff"/><path d="M5.2 1.2C0.8 5.4 0.2 12.6 4.6 16.8C8.8 20.8 15.8 20.8 19.4 15.2" stroke="#1C7A58" stroke-width="1.5" fill="none"/><path d="M6.9 3.1C3 6.8 2.8 12 6.2 15.4C9.6 18.6 14.8 18.4 17.9 14.2Z" fill="#F32F2F"/><g fill="#5A0A0A"><circle cx="8" cy="7.4" r=".8"/><circle cx="10.6" cy="10" r=".8"/><circle cx="7" cy="11.4" r=".8"/><circle cx="13.4" cy="12.8" r=".8"/><circle cx="9.8" cy="14.4" r=".8"/></g></g><g transform="translate(570.75,1576.12) scale(0.8000)"><path d="M5.2 1.2C0.8 5.4 0.2 12.6 4.6 16.8C8.8 20.8 15.8 20.8 19.4 15.2Z" fill="#fff"/><path d="M5.2 1.2C0.8 5.4 0.2 12.6 4.6 16.8C8.8 20.8 15.8 20.8 19.4 15.2" stroke="#1C7A58" stroke-width="1.5" fill="none"/><path d="M6.9 3.1C3 6.8 2.8 12 6.2 15.4C9.6 18.6 14.8 18.4 17.9 14.2Z" fill="#F32F2F"/><g fill="#5A0A0A"><circle cx="8" cy="7.4" r=".8"/><circle cx="10.6" cy="10" r=".8"/><circle cx="7" cy="11.4" r=".8"/><circle cx="13.4" cy="12.8" r=".8"/><circle cx="9.8" cy="14.4" r=".8"/></g></g><g transform="translate(592.75,1576.12) scale(0.8000)"><path d="M5.2 1.2C0.8 5.4 0.2 12.6 4.6 16.8C8.8 20.8 15.8 20.8 19.4 15.2Z" fill="#fff"/><path d="M5.2 1.2C0.8 5.4 0.2 12.6 4.6 16.8C8.8 20.8 15.8 20.8 19.4 15.2" stroke="#1C7A58" stroke-width="1.5" fill="none"/><path d="M6.9 3.1C3 6.8 2.8 12 6.2 15.4C9.6 18.6 14.8 18.4 17.9 14.2Z" fill="#F32F2F"/><g fill="#5A0A0A"><circle cx="8" cy="7.4" r=".8"/><circle cx="10.6" cy="10" r=".8"/><circle cx="7" cy="11.4" r=".8"/><circle cx="13.4" cy="12.8" r=".8"/><circle cx="9.8" cy="14.4" r=".8"/></g></g><g transform="translate(614.75,1576.12) scale(0.8000)"><path d="M5.2 1.2C0.8 5.4 0.2 12.6 4.6 16.8C8.8 20.8 15.8 20.8 19.4 15.2Z" fill="#fff"/><path d="M5.2 1.2C0.8 5.4 0.2 12.6 4.6 16.8C8.8 20.8 15.8 20.8 19.4 15.2" stroke="#1C7A58" stroke-width="1.5" fill="none"/><path d="M6.9 3.1C3 6.8 2.8 12 6.2 15.4C9.6 18.6 14.8 18.4 17.9 14.2Z" fill="#F32F2F"/><g fill="#5A0A0A"><circle cx="8" cy="7.4" r=".8"/><circle cx="10.6" cy="10" r=".8"/><circle cx="7" cy="11.4" r=".8"/><circle cx="13.4" cy="12.8" r=".8"/><circle cx="9.8" cy="14.4" r=".8"/></g></g><circle cx="104.0" cy="1585.62" r="6" fill="#F4511E"/><circle cx="194.7" cy="195.0" r="6" fill="#333"/><circle cx="598.7" cy="195.0" r="6" fill="#333"/><circle cx="194.7" cy="290.0" r="6" fill="#333"/><circle cx="598.7" cy="290.0" r="6" fill="#333"/><circle cx="194.7" cy="385.0" r="6" fill="#333"/><circle cx="598.7" cy="385.0" r="6" fill="#333"/><circle cx="194.7" cy="480.0" r="6" fill="#333"/><circle cx="598.7" cy="480.0" r="6" fill="#333"/><circle cx="194.7" cy="575.0" r="6" fill="#333"/><circle cx="598.7" cy="575.0" r="6" fill="#333"/><circle cx="194.7" cy="670.0" r="6" fill="#333"/><circle cx="598.7" cy="670.0" r="6" fill="#333"/><circle cx="194.7" cy="765.0" r="6" fill="#333"/><circle cx="598.7" cy="765.0" r="6" fill="#333"/><circle cx="194.7" cy="860.0" r="6" fill="#333"/><circle cx="598.7" cy="860.0" r="6" fill="#333"/><circle cx="194.7" cy="955.0" r="6" fill="#333"/><circle cx="598.7" cy="955.0" r="6" fill="#333"/><circle cx="194.7" cy="1050.0" r="6" fill="#333"/><circle cx="598.7" cy="1050.0" r="6" fill="#333"/><g transform="translate(313.20,1619.20) scale(0.6200)"><path d="M10 18.6C4 14 0.8 10.6 0.8 6.6C0.8 3.4 3.2 1.2 5.8 1.2C7.6 1.2 9 2.2 10 3.6C11 2.2 12.4 1.2 14.2 1.2C16.8 1.2 19.2 3.4 19.2 6.6C19.2 10.6 16 14 10 18.6Z" fill="#E52D3A"/></g></svg>
<div class="t" style="left:260.50px;top:53.02px;font-size:24px;font-weight:bold;color:#333;transform:matrix(0.9009,0,0,0.9966,0,0)">จับคู่เลขไทยกับผลไม้</div>
<div class="t" style="left:487.43px;top:61.70px;font-size:12px;font-weight:bold;color:#fff;transform:matrix(1.1750,0,0,1.1857,0,0)">เฉลย</div>
<div class="t" style="left:232.22px;top:95.57px;font-size:17px;color:#666;transform:matrix(0.9909,0,0,1.1050,0,0)">ลากเส้นจับคู่เลขไทยกับจำนวนผลไม้ให้ถูกต้อง</div>
<div class="t" style="left:105.62px;top:172.47px;font-size:27.5px;font-weight:normal;-webkit-text-stroke:0.35px #111;color:#111;transform:matrix(1.3583,0,0,1.0667,0,0)">๑</div>
<div class="t" style="left:107.82px;top:266.19px;font-size:27.5px;font-weight:normal;-webkit-text-stroke:0.35px #111;color:#111;transform:matrix(1.0812,0,0,1.1067,0,0)">๒</div>
<div class="t" style="left:108.62px;top:367.41px;font-size:27.5px;font-weight:normal;-webkit-text-stroke:0.35px #111;color:#111;transform:matrix(0.9765,0,0,0.9154,0,0)">๓</div>
<div class="t" style="left:107.60px;top:461.47px;font-size:27.5px;font-weight:normal;-webkit-text-stroke:0.35px #111;color:#111;transform:matrix(1.0000,0,0,0.9667,0,0)">๔</div>
<div class="t" style="left:107.60px;top:553.74px;font-size:27.5px;font-weight:normal;-webkit-text-stroke:0.35px #111;color:#111;transform:matrix(1.0000,0,0,1.0176,0,0)">๕</div>
<div class="t" style="left:109.60px;top:650.00px;font-size:27.5px;font-weight:normal;-webkit-text-stroke:0.35px #111;color:#111;transform:matrix(1.0375,0,0,1.0000,0,0)">๖</div>
<div class="t" style="left:105.75px;top:741.50px;font-size:27.5px;font-weight:normal;-webkit-text-stroke:0.35px #111;color:#111;transform:matrix(1.1765,0,0,1.1000,0,0)">๗</div>
<div class="t" style="left:107.89px;top:841.93px;font-size:27.5px;font-weight:normal;-webkit-text-stroke:0.35px #111;color:#111;transform:matrix(0.9056,0,0,0.9333,0,0)">๘</div>
<div class="t" style="left:107.98px;top:929.75px;font-size:27.5px;font-weight:normal;-webkit-text-stroke:0.35px #111;color:#111;transform:matrix(1.0118,0,0,1.1267,0,0)">๙</div>
<div class="t" style="left:96.49px;top:1028.43px;font-size:27.5px;font-weight:normal;-webkit-text-stroke:0.35px #111;color:#111;transform:matrix(1.2034,0,0,1.0583,0,0)">๑๐</div>
<div class="t" style="left:109.20px;top:1137.57px;font-size:15px;font-weight:bold;color:#222;transform:matrix(1.0278,0,0,1.2077,0,0)">ข้อ</div>
<div class="t" style="left:222.07px;top:1138.49px;font-size:15px;font-weight:bold;color:#222;transform:matrix(1.0302,0,0,1.1417,0,0)">คำถาม</div>
<div class="t" style="left:498.85px;top:1137.47px;font-size:15px;font-weight:bold;color:#222;transform:matrix(1.0533,0,0,1.2250,0,0)">คำตอบ</div>
<div class="t" style="left:238.45px;top:1182.93px;font-size:27.5px;font-weight:normal;color:#555;transform:matrix(0.7742,0,0,0.6080,0,0)">๑</div>
<div class="t" style="left:239.66px;top:1225.35px;font-size:27.5px;font-weight:normal;color:#555;transform:matrix(0.6574,0,0,0.6308,0,0)">๒</div>
<div class="t" style="left:240.16px;top:1270.66px;font-size:27.5px;font-weight:normal;color:#555;transform:matrix(0.5566,0,0,0.5653,0,0)">๓</div>
<div class="t" style="left:239.57px;top:1314.66px;font-size:27.5px;font-weight:normal;color:#555;transform:matrix(0.5700,0,0,0.5510,0,0)">๔</div>
<div class="t" style="left:239.57px;top:1356.25px;font-size:27.5px;font-weight:normal;color:#555;transform:matrix(0.5700,0,0,0.5801,0,0)">๕</div>
<div class="t" style="left:240.08px;top:1400.13px;font-size:27.5px;font-weight:normal;color:#555;transform:matrix(0.6308,0,0,0.5700,0,0)">๖</div>
<div class="t" style="left:238.52px;top:1441.28px;font-size:27.5px;font-weight:normal;color:#555;transform:matrix(0.6706,0,0,0.6270,0,0)">๗</div>
<div class="t" style="left:239.74px;top:1487.53px;font-size:27.5px;font-weight:normal;color:#555;transform:matrix(0.5162,0,0,0.5320,0,0)">๘</div>
<div class="t" style="left:239.79px;top:1526.58px;font-size:27.5px;font-weight:normal;color:#555;transform:matrix(0.5767,0,0,0.6422,0,0)">๙</div>
<div class="t" style="left:233.24px;top:1571.83px;font-size:27.5px;font-weight:normal;color:#555;transform:matrix(0.6860,0,0,0.6033,0,0)">๑๐</div>
<div class="t" style="left:268.15px;top:1615.00px;font-size:12px;-webkit-text-stroke:0.25px #999;color:#999;transform:matrix(0.8522,0,0,0.9143,0,0)">สร้างด้วย</div>
<div class="t" style="left:329.11px;top:1615.00px;font-size:12px;-webkit-text-stroke:0.25px #999;color:#999;transform:matrix(0.8889,0,0,0.9143,0,0)">เพื่อการเรียนรู้ของเด็ก</div>
<div class="t" style="left:429.12px;top:1615.00px;font-size:12px;-webkit-text-stroke:0.25px #999;color:#999;transform:matrix(0.8800,0,0,0.9143,0,0)">ๆ</div>
<div class="t" style="left:449.39px;top:1617.83px;font-size:11px;-webkit-text-stroke:0.2px #999;color:#999;transform:matrix(1.0068,0,0,1.0068,0,0)">kidsmathic.com</div>
<div class="t" style="left:125.80px;top:1187.69px;font-size:16px;color:#222;line-height:normal">1</div>
<div class="t" style="left:125.80px;top:1230.85px;font-size:16px;color:#222;line-height:normal">2</div>
<div class="t" style="left:125.80px;top:1273.99px;font-size:16px;color:#222;line-height:normal">3</div>
<div class="t" style="left:125.80px;top:1317.14px;font-size:16px;color:#222;line-height:normal">4</div>
<div class="t" style="left:125.80px;top:1360.29px;font-size:16px;color:#222;line-height:normal">5</div>
<div class="t" style="left:125.80px;top:1403.44px;font-size:16px;color:#222;line-height:normal">6</div>
<div class="t" style="left:125.80px;top:1446.60px;font-size:16px;color:#222;line-height:normal">7</div>
<div class="t" style="left:125.80px;top:1489.74px;font-size:16px;color:#222;line-height:normal">8</div>
<div class="t" style="left:125.80px;top:1532.89px;font-size:16px;color:#222;line-height:normal">9</div>
<div class="t" style="left:121.50px;top:1576.04px;font-size:16px;color:#222;line-height:normal">10</div>
<div style="position:absolute;left:438px;top:1624.2px;width:9px;height:1px;background:#aaa"></div>
</body></html>
